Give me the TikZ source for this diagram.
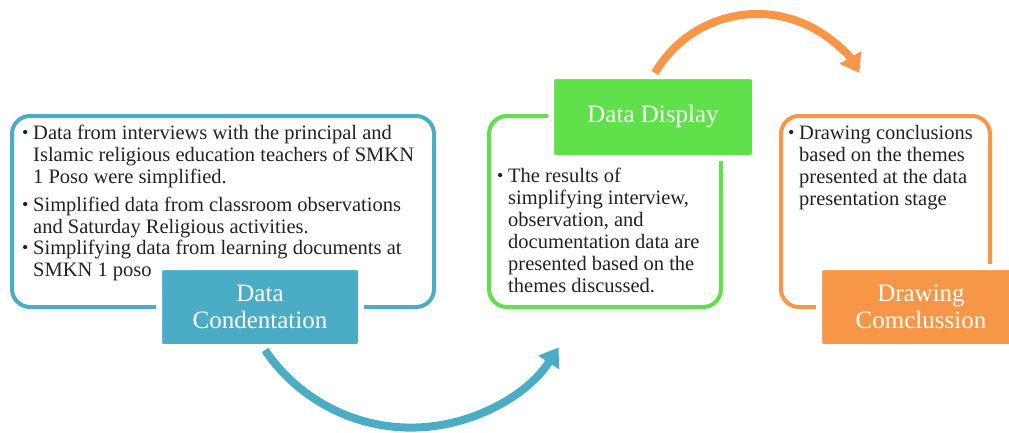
\documentclass[tikz,border=0pt]{standalone}
\usepackage{fontspec}
\setmainfont{Liberation Serif}
\usetikzlibrary{arrows.meta}
\definecolor{cblue}{HTML}{4BACC6}
\definecolor{cgreen}{HTML}{60E04A}
\definecolor{corange}{HTML}{F79646}
\definecolor{ctext}{HTML}{222222}
\newcommand\bitem[1]{\makebox[11pt][l]{\raisebox{0.5pt}{\fontsize{18}{18}\selectfont\textbullet}}\parbox[t]{400pt}{\raggedright #1}}
\begin{document}
\begin{tikzpicture}[x=1pt,y=1pt,
  outline/.style={line width=4pt, rounded corners=18pt, inner sep=0pt, outer sep=0pt},
  labelbox/.style={draw=white, line width=6pt, rounded corners=4pt, inner sep=0pt, outer sep=0pt, text=white, align=center, font=\fontsize{25}{27}\selectfont},
  bullettext/.style={anchor=base west, inner sep=0pt, text=ctext, font=\fontsize{20.5}{22}\selectfont},
  flow/.style={line width=8pt, -{Triangle[width=24pt,length=18pt]}}]
\useasboundingbox (0,0) rectangle (1009,-432);
\clip (0,0) rectangle (1009,-432);
% outlines
\node[outline, draw=cblue, minimum width=422pt, minimum height=191pt] (b1) at (223,-211.5) {};
\node[outline, draw=cgreen, minimum width=232pt, minimum height=191pt] (b2) at (605,-211.5) {};
\node[outline, draw=corange, minimum width=209pt, minimum height=191pt] (b3) at (885.5,-211.5) {};
% texts
\node[bullettext] (t1a) at (22,-139) {\bitem{Data from interviews with the principal and\\Islamic religious education teachers of SMKN\\1 Poso were simplified.}};
\node[bullettext] (t1b) at (22,-211) {\bitem{Simplified data from classroom observations\\and Saturday Religious activities.}};
\node[bullettext] (t1c) at (22,-254) {\bitem{Simplifying data from learning documents at\\SMKN 1 poso}};
\node[bullettext] (t2) at (497,-182) {\bitem{The results of\\simplifying interview,\\observation, and\\documentation data are\\presented based on the\\themes discussed.}};
\node[bullettext] (t3) at (788,-139) {\bitem{Drawing conclusions\\based on the themes\\presented at the data\\presentation stage}};
% labels
\node[labelbox, fill=cblue, minimum width=202pt, minimum height=80pt] (l1) at (260,-307) {Data\\Condentation};
\node[labelbox, fill=cgreen, minimum width=204pt, minimum height=82pt] (l2) at (653,-117) {Data Display};
\node[labelbox, fill=corange, minimum width=204pt, minimum height=80pt] (l3) at (921,-307) {Drawing\\Comclussion};
% arrows
\coordinate (a1s) at (265,-350);
\coordinate (a2s) at (655,-73);
\draw[flow, cblue] (a1s) arc[start angle=-146, end angle=-33, radius=176];
\draw[flow, corange] (a2s) arc[start angle=150, end angle=30, radius=118];
\end{tikzpicture}
\end{document}
